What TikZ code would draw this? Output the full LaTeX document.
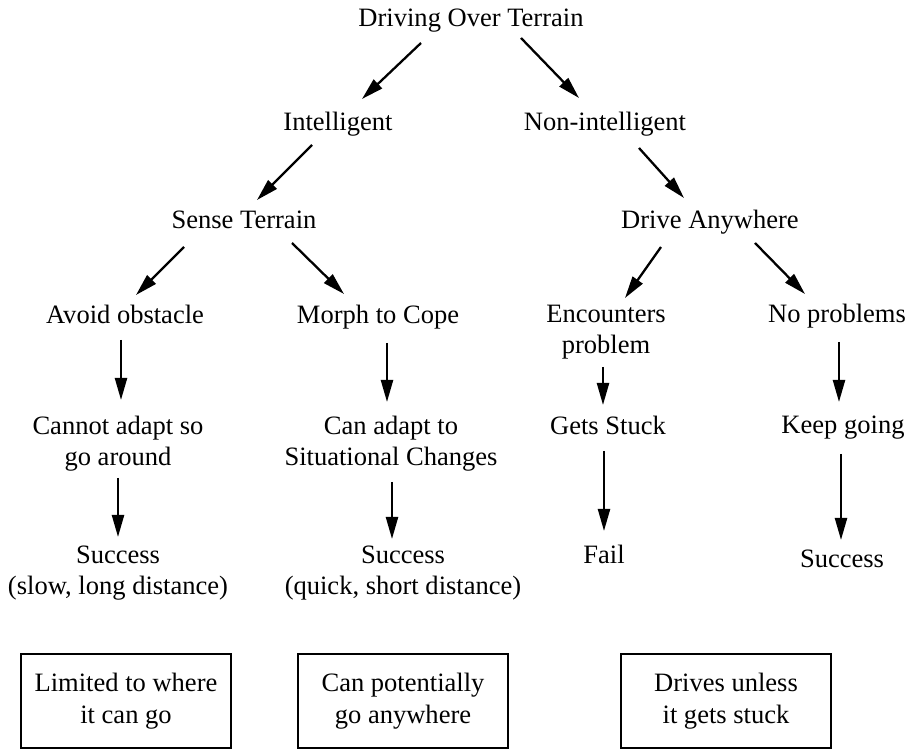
\documentclass[tikz,border=0pt]{standalone}
\usepackage{fontspec}
\setmainfont{Liberation Serif}
\usetikzlibrary{arrows.meta,calc}

\tikzset{
  lbl/.style={anchor=base, inner sep=0pt, align=center, font=\fontsize{15.1}{17.9}\selectfont},
  outcome/.style={draw, line width=1.4pt, minimum width=4.2cm, minimum height=1.88cm,
    inner sep=0pt, align=center, font=\fontsize{15.1}{17.9}\selectfont},
  arr/.style={-{Triangle[length=0.44cm,width=0.24cm]}, line width=1.3pt},
}

\begin{document}
\begin{tikzpicture}[x=0.02cm,y=-0.02cm]
	\useasboundingbox (0,0) rectangle (914,749);
	% levels of the tree (base = last line)
	\node[lbl] (root)      at (471,27)  {Driving Over Terrain};
	\node[lbl] (intel)     at (338,131) {Intelligent};
	\node[lbl] (nonintel)  at (605,131) {Non-intelligent};
	\node[lbl] (sense)     at (244,229) {Sense Terrain};
	\node[lbl] (anywhere)  at (710,229) {Drive Anywhere};
	\node[lbl] (avoid)     at (125,324) {Avoid obstacle};
	\node[lbl] (morph)     at (378,324) {Morph to Cope};
	\node[lbl] (encounter) at (606,354) {Encounters\\problem};
	\node[lbl] (noprob)    at (837,323) {No problems};
	\node[lbl] (cannot)    at (118,466) {Cannot adapt so\\go around};
	\node[lbl] (canadapt)  at (391,466) {Can adapt to\\Situational Changes};
	\node[lbl] (stuck)     at (608,435) {Gets Stuck};
	\node[lbl] (keep)      at (843,434) {Keep going};
	\node[lbl] (succslow)  at (118,595) {Success\\(slow, long distance)};
	\node[lbl] (succquick) at (403,595) {Success\\(quick, short distance)};
	\node[lbl] (fail)      at (604,564) {Fail};
	\node[lbl] (succgo)    at (842,568) {Success};

	% summaries
	\node[outcome] (limited)   at (126,701) {Limited to where\\it can go};
	\node[outcome] (potential) at (403,701) {Can potentially\\go anywhere};
	\node[outcome] (unless)    at (726,701) {Drives unless\\it gets stuck};

	% arrows
	\draw[arr] ($(root.base)+(-50,16)$)      -- ($(intel.base)+(24,-32)$);
	\draw[arr] ($(root.base)+(50,11)$)       -- ($(nonintel.base)+(-26,-33)$);
	\draw[arr] ($(intel.base)+(-26,14)$)     -- ($(sense.base)+(13,-29)$);
	\draw[arr] ($(nonintel.base)+(34,17)$)   -- ($(anywhere.base)+(-26,-31)$);
	\draw[arr] ($(sense.base)+(-60,18)$)     -- ($(avoid.base)+(11,-29)$);
	\draw[arr] ($(sense.base)+(48,14)$)      -- ($(morph.base)+(-34,-30)$);
	\draw[arr] ($(anywhere.base)+(-49,18)$)  -- ($(encounter.base)+(19,-56)$);
	\draw[arr] ($(anywhere.base)+(45,14)$)   -- ($(noprob.base)+(-32,-29)$);
	\draw[arr] ($(avoid.base)+(-4,16)$)      -- ($(cannot.base)+(3,-66)$);
	\draw[arr] ($(morph.base)+(9,19)$)       -- ($(canadapt.base)+(-4,-64)$);
	\draw[arr] ($(encounter.base)+(-3,13)$)  -- ($(stuck.base)+(-5,-30)$);
	\draw[arr] ($(noprob.base)+(2,19)$)      -- ($(keep.base)+(-4,-32)$);
	\draw[arr] ($(cannot.base)+(0,12)$)      -- ($(succslow.base)+(0,-58)$);
	\draw[arr] ($(canadapt.base)+(1,16)$)    -- ($(succquick.base)+(-11,-56)$);
	\draw[arr] ($(stuck.base)+(-4,16)$)      -- ($(fail.base)+(0,-33)$);
	\draw[arr] ($(keep.base)+(-2,20)$)       -- ($(succgo.base)+(-1,-28)$);
\end{tikzpicture}
\end{document}
